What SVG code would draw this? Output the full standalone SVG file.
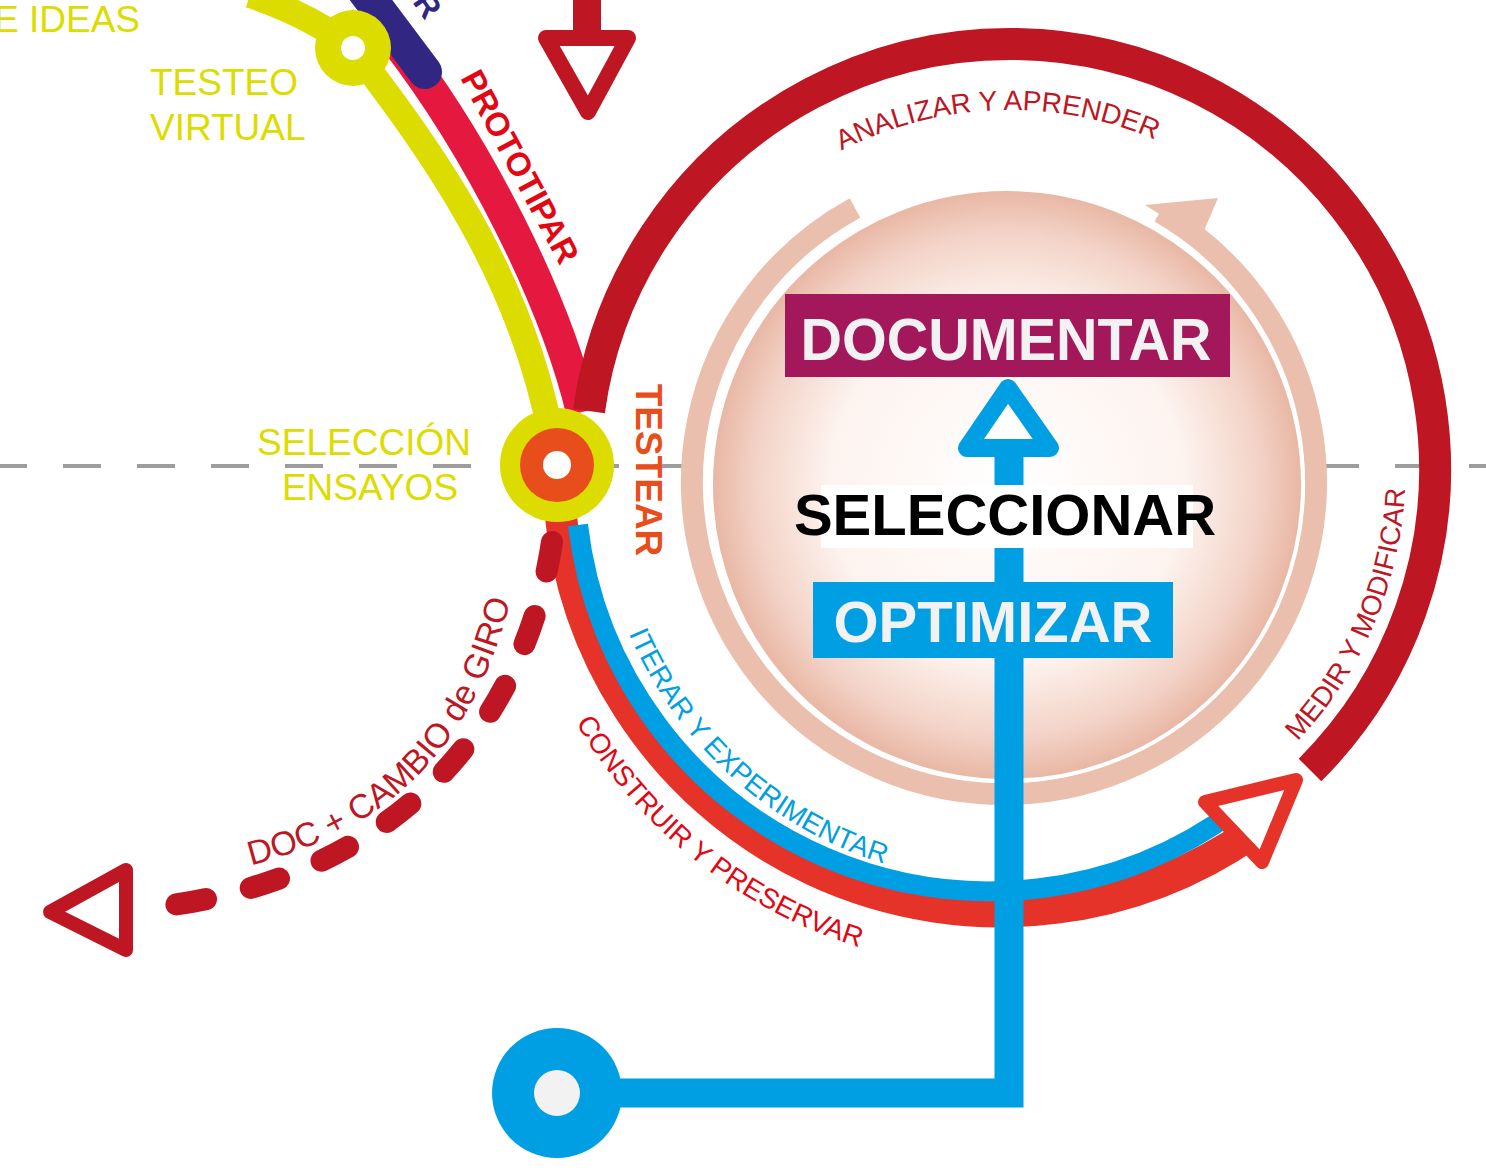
<svg xmlns="http://www.w3.org/2000/svg" width="1486" height="1171" viewBox="0 0 1486 1171">
<style>
.t{font-family:"Liberation Sans",Arial,sans-serif}
.y{fill:#dcdc00;font-size:37px}
.arc{font-size:28px}
.wb{font-family:"Liberation Sans",Arial,sans-serif;font-weight:bold}
</style>
<defs>
<radialGradient id="sph" cx="0.5" cy="0.5" r="0.5">
<stop offset="0" stop-color="#ffffff"/>
<stop offset="0.6" stop-color="#fdf3ef"/>
<stop offset="0.85" stop-color="#f3d3c7"/>
<stop offset="1" stop-color="#e8b6a3"/>
</radialGradient>
<path id="pAn" d="M 640 480 A 370 370 0 0 1 1380 480"/>
<path id="pMe" d="M 1274 764 A 392 392 0 0 0 1405 456"/>
<path id="pIt" d="M 605 560 A 412 412 0 0 0 960 880"/>
<path id="pCo" d="M 530 620 A 500 500 0 0 0 970 968"/>
<path id="pDoc" d="M 180 878 C 420 850 498 705 522 540"/>
</defs>
<rect width="1486" height="1171" fill="#fff"/>
<line x1="0" y1="466" x2="1486" y2="466" stroke="#9d9d9d" stroke-width="4" stroke-dasharray="38 36" stroke-dashoffset="11"/>

<g id="sphere">
<path d="M 855 208 A 312 312 0 1 0 1160 212" fill="none" stroke="#ebbfae" stroke-width="22"/>
<polygon points="1145,205 1218,198 1200,240" fill="#ebbfae"/>
<circle cx="1007" cy="485" r="296" fill="url(#sph)" stroke="#fff" stroke-width="4"/>
</g>

<g id="connectors" fill="none">
<path d="M 250 -5 Q 310 15 353 48" stroke="#dcdc00" stroke-width="26"/>
<path d="M 395 40 C 480 150 555 300 582 412" stroke="#e5193f" stroke-width="32"/>
<path d="M 353 48 C 430 150 520 270 552 440" stroke="#dcdc00" stroke-width="26"/>
<path d="M 362 -12 L 425 72" stroke="#312783" stroke-width="34" stroke-linecap="round"/>
<path d="M 589 411 A 425 425 0 1 1 1310 770" stroke="#be1622" stroke-width="32"/>
<path d="M 560 508 A 442 442 0 0 0 1253 832" stroke="#e5332a" stroke-width="32"/>
<path d="M 578 525 A 414 414 0 0 0 1237 809" stroke="#009fe3" stroke-width="20"/>
<path d="M 552 542 C 525 720 400 880 150 908" stroke="#be1622" stroke-width="22" stroke-linecap="round" stroke-dasharray="30 46"/>
<polygon points="50,912 126,870 126,950" fill="#fff" stroke="#be1622" stroke-width="14" stroke-linejoin="round"/>
<line x1="587" y1="0" x2="587" y2="40" stroke="#be1622" stroke-width="28"/>
<polygon points="546,38 628,38 588,112" fill="#fff" stroke="#be1622" stroke-width="16" stroke-linejoin="round"/>
<polygon points="1205,802 1296,780 1262,862" fill="#fff" stroke="#e5332a" stroke-width="14" stroke-linejoin="round"/>
<path d="M 1009 455 V 1093 H 600" stroke="#009fe3" stroke-width="29"/>
<polygon points="967,448 1050,448 1008,388" fill="#fff" stroke="#009fe3" stroke-width="18" stroke-linejoin="round"/>
</g>

<g id="node-testeo">
<circle cx="353" cy="48" r="38" fill="#dcdc00"/>
<circle cx="353" cy="48" r="12" fill="#fff"/>
</g>
<g id="node-seleccion">
<circle cx="557" cy="465" r="57" fill="#dcdc00"/>
<circle cx="557" cy="465" r="37" fill="#e84e1b"/>
<circle cx="557" cy="465" r="14" fill="#fff"/>
</g>
<g id="node-blue">
<circle cx="557" cy="1093" r="65" fill="#009fe3"/>
<circle cx="557" cy="1093" r="23" fill="#f2f2f2"/>
</g>

<g id="documentar">
<rect x="785" y="294" width="445" height="83" fill="#a2185b"/>
<text class="wb" x="1006" y="360" font-size="60" fill="#f2f2f2" text-anchor="middle" textLength="411" lengthAdjust="spacingAndGlyphs">DOCUMENTAR</text>
</g>
<g id="seleccionar">
<rect x="821" y="485" width="372" height="63" fill="#fff"/>
<text class="wb" x="1005" y="535" font-size="58" fill="#000" text-anchor="middle">SELECCIONAR</text>
</g>
<g id="optimizar">
<rect x="813" y="582" width="360" height="76" fill="#009fe3"/>
<text class="wb" x="993" y="642" font-size="58" fill="#f2f2f2" text-anchor="middle">OPTIMIZAR</text>
</g>

<g id="labels" class="t">
<text class="y" x="-6" y="32">E IDEAS</text>
<text class="y" x="150" y="95">TESTEO</text>
<text class="y" x="150" y="140">VIRTUAL</text>
<text class="y" x="364" y="455" text-anchor="middle">SELECCIÓN</text>
<text class="y" x="370" y="500" text-anchor="middle">ENSAYOS</text>
<text x="0" y="0" transform="translate(412,2) rotate(55)" fill="#312783" font-size="32" font-weight="bold">R</text>
<text x="0" y="0" transform="translate(510,172) rotate(62)" fill="#e30613" font-size="33" font-weight="bold" text-anchor="middle">PROTOTIPAR</text>
<text x="0" y="0" transform="translate(636,470) rotate(90)" fill="#e84e1b" font-size="37" font-weight="bold" text-anchor="middle">TESTEAR</text>
<text class="arc" fill="#be1622" transform="rotate(-2 1010 480)"><textPath href="#pAn" startOffset="50%" text-anchor="middle">ANALIZAR Y APRENDER</textPath></text>
<text class="arc" fill="#be1622"><textPath href="#pMe" startOffset="50%" text-anchor="middle">MEDIR Y MODIFICAR</textPath></text>
<text class="arc" fill="#009fe3"><textPath href="#pIt" startOffset="50%" text-anchor="middle">ITERAR Y EXPERIMENTAR</textPath></text>
<text class="arc" fill="#e30613"><textPath href="#pCo" startOffset="50%" text-anchor="middle">CONSTRUIR Y PRESERVAR</textPath></text>
<text font-size="34" fill="#be1622"><textPath href="#pDoc" startOffset="51%" text-anchor="middle">DOC + CAMBIO de GIRO</textPath></text>
</g>
</svg>
